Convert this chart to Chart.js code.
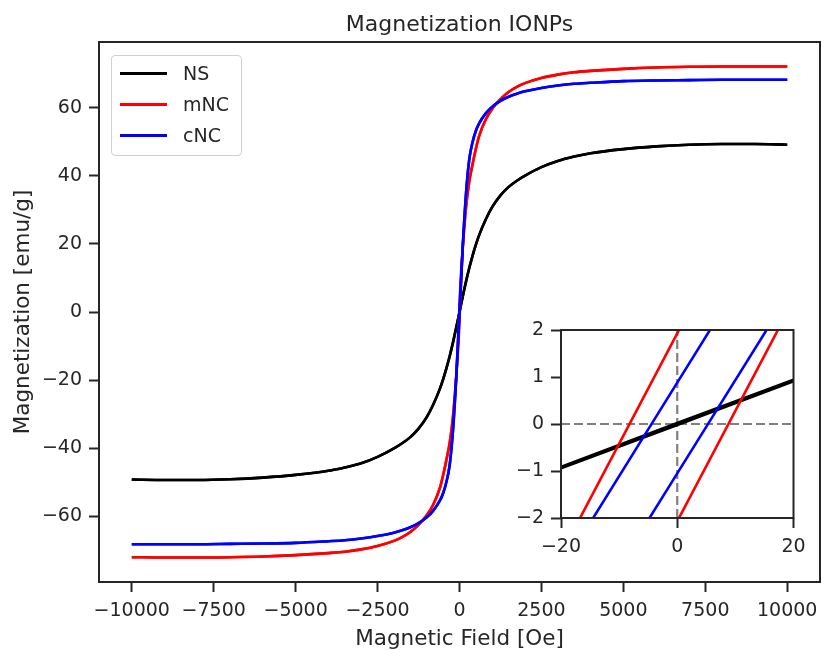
<!DOCTYPE html>
<html>
<head>
<meta charset="utf-8">
<title>Magnetization IONPs</title>
<script src="https://cdn.jsdelivr.net/npm/chart.js@4.4.1/dist/chart.umd.min.js"></script>
<style>
  body { margin: 0; background: #fff; }
  #wrap { position: relative; width: 821px; height: 650px; overflow: hidden; }
  #main { position: absolute; left: 0; top: 0; }
  #inset { position: absolute; left: 490px; top: 318px; }
  #legend {
    position: absolute; left: 111px; top: 55px; width: 131px; height: 101px;
    box-sizing: border-box; border: 1px solid #d0d0d0; border-radius: 4px;
    background: rgba(255, 255, 255, 0.8);
    font-family: 'DejaVu Sans', sans-serif; font-size: 19px; color: #262626;
  }
  #legend .row { position: absolute; left: 0; width: 100%; height: 22px; }
  #legend .swatch { position: absolute; left: 8px; top: 10px; width: 47px; height: 2.5px; }
  #legend .label { position: absolute; left: 71px; top: 0; line-height: 22px; white-space: nowrap; }
</style>
</head>
<body>
<div id="wrap">
  <canvas id="main" width="821" height="650"></canvas>
  <canvas id="inset" width="325" height="250"></canvas>
  <div id="legend"></div>
</div>
<script>
// ---- data ----
const seriesNames = ['NS', 'mNC', 'cNC'];
const seriesColors = ['#000000', '#ff0000', '#0000ff'];

// applied field [Oe], outer part of the sweep
const fieldOe = [-10000, -9000, -8000, -7000, -6000, -5000, -4000, -3500, -3000, -2500, -2000,
                 -1750, -1500, -1250, -1000, -800, -600, -500, -400, -300, -200, -100,
                 100, 200, 300, 400, 500, 600, 800, 1000, 1250, 1500, 1750,
                 2000, 2500, 3000, 3500, 4000, 5000, 6000, 7000, 8000, 9000, 10000];

// magnetization [emu/g] at fieldOe
const nsM = [-49.3, -49.4, -49.4, -49.2, -48.7, -47.9, -46.7, -45.7, -44.5, -42.6, -40.1,
             -38.6, -36.8, -34.3, -30.9, -27.2, -22.6, -19.8, -16.6, -13.0, -9.0, -4.6,
             4.6, 9.0, 13.0, 16.6, 19.8, 22.6, 27.2, 30.9, 34.3, 36.8, 38.6,
             40.1, 42.6, 44.4, 45.7, 46.7, 47.9, 48.7, 49.2, 49.4, 49.4, 49.2];
const mncM = [-72.1, -72.2, -72.2, -72.1, -71.9, -71.5, -70.9, -70.5, -69.8, -68.8, -67.3,
              -66.2, -64.7, -62.6, -59.8, -56.6, -51.8, -48.0, -43.5, -38.5, -31.0, -19.0,
              19.0, 31.0, 38.5, 43.5, 48.0, 51.8, 56.6, 59.8, 62.6, 64.7, 66.2,
              67.3, 68.8, 69.8, 70.5, 70.9, 71.5, 71.9, 72.1, 72.2, 72.2, 72.2];
const cncM = [-68.3, -68.3, -68.3, -68.2, -68.1, -67.9, -67.4, -67.1, -66.6, -65.9, -64.9,
              -64.2, -63.3, -62.1, -60.4, -58.4, -55.5, -53.3, -50.0, -45.0, -35.0, -19.5,
              19.5, 35.0, 45.0, 50.0, 53.3, 55.5, 58.4, 60.4, 62.1, 63.3, 64.2,
              64.9, 65.9, 66.6, 67.1, 67.4, 67.9, 68.1, 68.2, 68.3, 68.3, 68.3];

// low-field part of the loop: descending / ascending branch
const loopField = [-20, 0, 20];
const nsUp = [-0.91, 0.02, 0.94];
const nsDown = [-0.94, -0.02, 0.91];
const mncUp = [-2.77, 1.93, 6.63];
const mncDown = [-6.77, -2.07, 2.63];
const cncUp = [-3.10, 0.88, 4.86];
const cncDown = [-5.03, -1.05, 2.92];

// tick labels
const fieldTicks = [-10000, -7500, -5000, -2500, 0, 2500, 5000, 7500, 10000];
const magTicks = [-60, -40, -20, 0, 20, 40, 60];
const insetFieldTicks = [-20, 0, 20];
const insetMagTicks = [-2, -1, 0, 1, 2];

// ---- helpers ----
const INK = '#262626';
const FONT = "'DejaVu Sans', sans-serif";
Chart.defaults.font.family = FONT;
Chart.defaults.color = INK;

const fmt = v => (v < 0 ? '\u2212' : '') + Math.abs(v);

function branch(curve, loop) {
  const pts = fieldOe.map((h, i) => ({ x: h, y: curve[i] }))
    .concat(loopField.map((h, i) => ({ x: h, y: loop[i] })));
  return pts.sort((a, b) => a.x - b.x);
}

const curves = [nsM, mncM, cncM];
const ups = [nsUp, mncUp, cncUp];
const downs = [nsDown, mncDown, cncDown];

function makeDatasets(width) {
  const out = [];
  seriesNames.forEach((name, i) => {
    [ups[i], downs[i]].forEach(loop => {
      out.push({
        label: name,
        data: branch(curves[i], loop),
        borderColor: seriesColors[i],
        backgroundColor: seriesColors[i],
        borderWidth: width,
        order: seriesNames.length - 1 - i, // cNC on top
        fill: false
      });
    });
  });
  return out;
}

// axes box (all four spines) + white plot background
const frame = {
  id: 'frame',
  beforeDraw(chart) {
    const a = chart.chartArea, c = chart.ctx;
    c.save();
    c.fillStyle = '#fff';
    c.fillRect(a.left, a.top, a.right - a.left, a.bottom - a.top);
    c.restore();
  },
  afterDraw(chart) {
    const a = chart.chartArea, c = chart.ctx;
    c.save();
    c.strokeStyle = INK;
    c.lineWidth = 2;
    c.strokeRect(a.left, a.top, a.right - a.left, a.bottom - a.top);
    c.restore();
  }
};

// dashed zero lines of the inset
const zeroLines = {
  id: 'zeroLines',
  beforeDatasetsDraw(chart) {
    const { ctx, chartArea: a, scales: { x, y } } = chart;
    const x0 = x.getPixelForValue(0), y0 = y.getPixelForValue(0);
    ctx.save();
    ctx.strokeStyle = '#808080';
    ctx.lineWidth = 2.2;
    ctx.setLineDash([9, 4]);
    ctx.beginPath();
    ctx.moveTo(a.left, y0); ctx.lineTo(a.right, y0);
    ctx.moveTo(x0, a.bottom); ctx.lineTo(x0, a.top);
    ctx.stroke();
    ctx.restore();
  }
};

function axis(min, max, ticks, pad, extra) {
  return Object.assign({
    type: 'linear',
    min: min,
    max: max,
    afterBuildTicks: s => { s.ticks = ticks.map(v => ({ value: v })); },
    ticks: { callback: fmt, color: INK, font: { size: 19 }, padding: pad, maxRotation: 0, autoSkip: false },
    grid: { drawOnChartArea: false, drawTicks: true, tickLength: 10, tickWidth: 2, tickColor: INK },
    border: { display: false }
  }, extra);
}

// ---- main chart ----
new Chart(document.getElementById('main'), {
  type: 'line',
  data: { datasets: makeDatasets(2.6) },
  options: {
    responsive: false,
    animation: false,
    devicePixelRatio: 1,
    layout: { padding: { left: 0, right: 1, top: 0, bottom: 0 } },
    elements: {
      point: { radius: 0, hoverRadius: 0 },
      line: { cubicInterpolationMode: 'monotone' }
    },
    plugins: {
      legend: { display: false },
      tooltip: { enabled: false },
      title: {
        display: true,
        fullSize: false,
        text: 'Magnetization IONPs',
        color: INK,
        font: { size: 22, weight: 'normal' },
        padding: { top: 12, bottom: 3.6 }
      }
    },
    scales: {
      x: axis(-11000, 11000, fieldTicks, 8, {
        title: { display: true, text: 'Magnetic Field [Oe]', color: INK, font: { size: 21.5, lineHeight: 1 }, padding: { top: 0, bottom: 0 } },
        afterFit: s => { s.height = 68; s.paddingLeft = 0; s.paddingRight = 0; }
      }),
      y: axis(-79.4, 79.4, magTicks, 7, {
        title: { display: true, text: 'Magnetization [emu/g]', color: INK, font: { size: 21.5 }, padding: { top: 10.5, bottom: 0 } },
        afterFit: s => { s.width = 99; s.paddingTop = 0; s.paddingBottom = 0; }
      })
    }
  },
  plugins: [frame]
});

// ---- inset (zoom on the origin) ----
new Chart(document.getElementById('inset'), {
  type: 'line',
  data: { datasets: makeDatasets(2.6) },
  options: {
    responsive: false,
    animation: false,
    devicePixelRatio: 1,
    layout: { padding: { left: 0, right: 21.5, top: 12, bottom: 0 } },
    elements: { point: { radius: 0, hoverRadius: 0 }, line: { tension: 0 } },
    plugins: { legend: { display: false }, tooltip: { enabled: false }, title: { display: false } },
    scales: {
      x: axis(-20, 20, insetFieldTicks, 8, { afterFit: s => { s.height = 50; s.paddingLeft = 0; s.paddingRight = 0; } }),
      y: axis(-2, 2, insetMagTicks, 7, { afterFit: s => { s.width = 71; s.paddingTop = 0; s.paddingBottom = 0; } })
    }
  },
  plugins: [frame, zeroLines]
});

// ---- legend (matplotlib style box, upper left) ----
const legend = document.getElementById('legend');
seriesNames.forEach((name, i) => {
  const row = document.createElement('div');
  row.className = 'row';
  row.style.top = (6 + i * 31) + 'px';
  row.innerHTML = '<span class="swatch" style="background:' + seriesColors[i] + '"></span>' +
                  '<span class="label">' + name + '</span>';
  legend.appendChild(row);
});
</script>
</body>
</html>
